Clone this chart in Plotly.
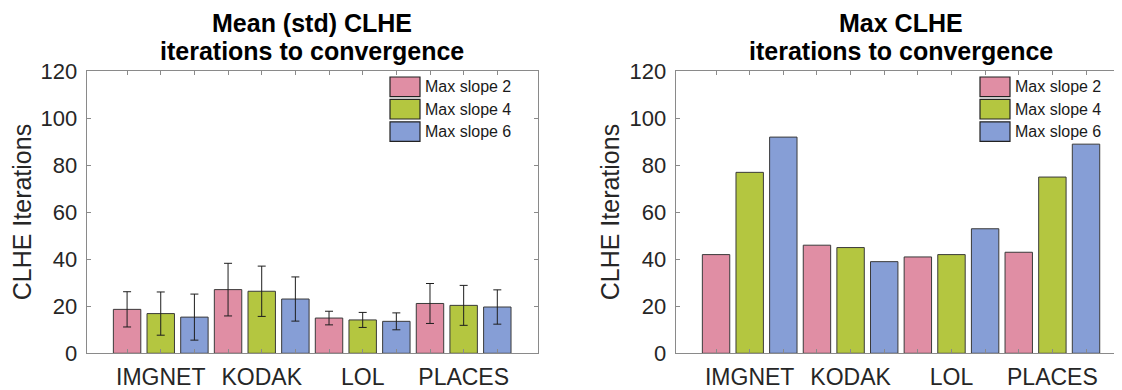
import plotly.graph_objects as go

# ---------------- data ----------------
categories = ["IMGNET", "KODAK", "LOL", "PLACES"]
series_names = ["Max slope 2", "Max slope 4", "Max slope 6"]

mean_slope2 = [18.7, 27.1, 15.0, 21.2]
mean_slope4 = [16.9, 26.4, 14.2, 20.4]
mean_slope6 = [15.4, 23.1, 13.6, 19.7]

std_slope2 = [7.5, 11.2, 2.9, 8.5]
std_slope4 = [9.2, 10.7, 3.2, 8.5]
std_slope6 = [9.8, 9.4, 3.6, 7.3]

max_slope2 = [42, 46, 41, 43]
max_slope4 = [77, 45, 42, 75]
max_slope6 = [92, 39, 53, 89]

y_ticks = [0, 20, 40, 60, 80, 100, 120]

titles_line1 = ["Mean (std) CLHE", "Max CLHE"]
title_line2 = "iterations to convergence"
y_title = "CLHE Iterations"

# ---------------- style ----------------
colors = ["#E08EA4", "#B4C640", "#869ED6"]
edge = "#3a3a3a"
axis_col = "#8a8a8a"
txt = "#262626"
FONT = "Liberation Sans, Arial, sans-serif"

# page body has an 8px margin; figure is placed at (8, 8)
OFF = 8
W, H = 1122 - OFF, 390 - OFF


def px(x):
    return (x - OFF) / W


def py(y):
    return 1 - (y - OFF) / H


means = [mean_slope2, mean_slope4, mean_slope6]
stds = [std_slope2, std_slope4, std_slope6]
maxs = [max_slope2, max_slope4, max_slope6]
nser = len(series_names)


def positions(s):
    return [g * nser + s + 1 for g in range(len(categories))]


tickvals = list(range(1, len(categories) * nser + 1))
ticktext = []
for g, c in enumerate(categories):
    for s in range(nser):
        ticktext.append(c if s == nser // 2 else "")

fig = go.Figure()
for s in range(nser):
    fig.add_trace(go.Bar(
        x=positions(s), y=means[s], width=0.815, name=series_names[s],
        marker=dict(color=colors[s], line=dict(color=edge, width=1)),
        error_y=dict(type="data", array=stds[s], visible=True,
                     color="#1e1e1e", thickness=1, width=4),
        xaxis="x", yaxis="y", showlegend=False))
for s in range(nser):
    fig.add_trace(go.Bar(
        x=positions(s), y=maxs[s], width=0.815, name=series_names[s],
        marker=dict(color=colors[s], line=dict(color=edge, width=1)),
        xaxis="x2", yaxis="y2", showlegend=False))

# panel geometry in page pixels
L1, R1 = 86.7, 537.7
L2, R2 = 675.7, 1122.0
R2_full = 1126.7
TOP, BOT = 71.3, 353.3

common_x = dict(
    tickmode="array", tickvals=tickvals, ticktext=ticktext,
    ticks="inside", ticklen=4, tickcolor=axis_col,
    showline=True, linecolor=axis_col, linewidth=1,
    showgrid=False, zeroline=False, automargin=False,
    ticklabelstandoff=3,
    tickfont=dict(family=FONT, size=23, color=txt),
)
common_y = dict(
    range=[0, 120], tickmode="array", tickvals=y_ticks,
    ticks="inside", ticklen=4, tickcolor=axis_col,
    showline=True, linecolor=axis_col, linewidth=1,
    showgrid=False, zeroline=False, automargin=False,
    ticklabelstandoff=4,
    tickfont=dict(family=FONT, size=22, color=txt),
)

ydom = [py(BOT), py(TOP)]
fig.update_layout(
    width=W, height=H,
    margin=dict(l=0, r=0, t=0, b=0, autoexpand=False),
    paper_bgcolor="white", plot_bgcolor="white",
    barmode="overlay", showlegend=False,
    xaxis=dict(domain=[px(L1), px(R1)], range=[-0.2, 13.2], mirror="ticks", anchor="y", **common_x),
    yaxis=dict(domain=ydom, mirror="ticks", anchor="x", **common_y),
    xaxis2=dict(domain=[px(L2), min(1.0, px(R2))], range=[-0.2, 13.07], mirror="ticks", anchor="y2", **common_x),
    yaxis2=dict(domain=ydom, mirror=False, anchor="x2", **common_y),
)

# titles (two lines, each its own annotation for MATLAB-like line spacing)
centers = [(L1 + R1) / 2, (L2 + R2_full) / 2]
for t1, cx in zip(titles_line1, centers):
    for line, yc in [(t1, 22.8), (title_line2, 50.5)]:
        fig.add_annotation(
            text="<b>" + line + "</b>",
            x=px(cx), y=py(yc), xref="paper", yref="paper",
            xanchor="center", yanchor="middle", showarrow=False, borderpad=0,
            font=dict(family=FONT, size=25, color="black"))

# y-axis titles
for cx in [22, 610]:
    fig.add_annotation(
        text=y_title, textangle=-90,
        x=px(cx), y=py((TOP + BOT) / 2), xref="paper", yref="paper",
        xanchor="center", yanchor="middle", showarrow=False,
        font=dict(family=FONT, size=25, color=txt))

# legends (drawn as swatches + labels)
for lx in [390.0, 980.0]:
    for s in range(nser):
        y0 = 77 + s * 22.4
        y1 = y0 + 19.6
        fig.add_shape(type="rect", xref="paper", yref="paper",
                      x0=px(lx), x1=px(lx + 30), y0=py(y1), y1=py(y0),
                      fillcolor=colors[s], line=dict(color="#222222", width=1.2))
        fig.add_annotation(text=series_names[s], x=px(lx + 33), y=py((y0 + y1) / 2),
                           xref="paper", yref="paper", xanchor="left", yanchor="middle",
                           showarrow=False, font=dict(family=FONT, size=16, color="#1a1a1a"))

fig.write_html("out.html")
